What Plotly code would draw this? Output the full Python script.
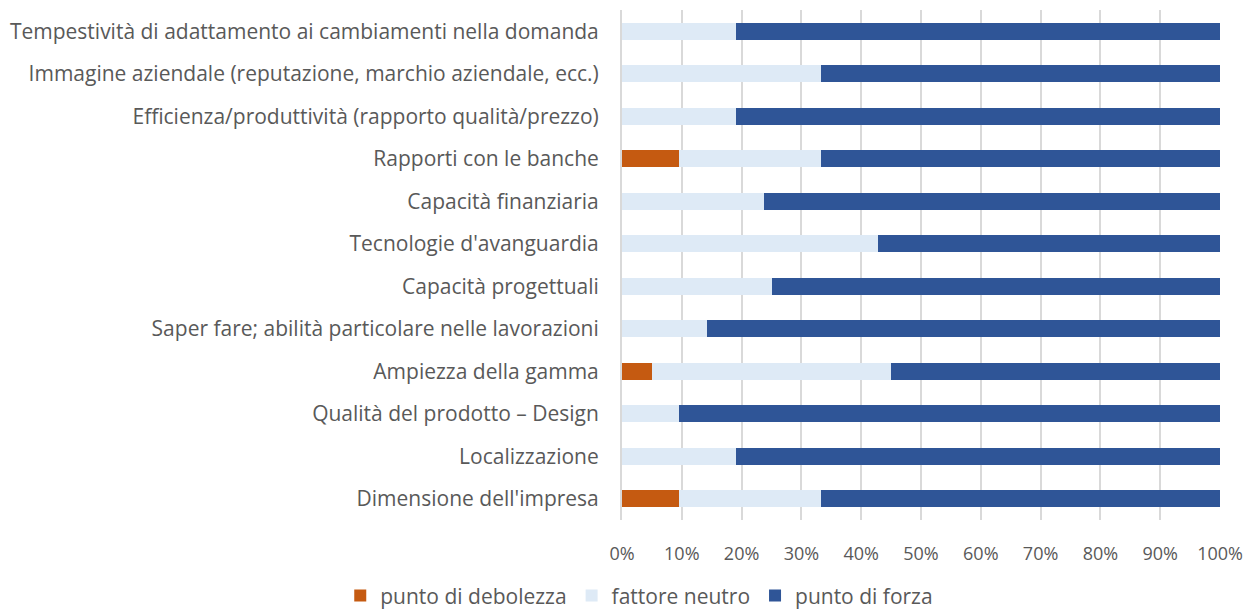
import plotly.graph_objects as go

categories = [
    "Tempestività di adattamento ai cambiamenti nella domanda",
    "Immagine aziendale (reputazione, marchio aziendale, ecc.)",
    "Efficienza/produttività (rapporto qualità/prezzo)",
    "Rapporti con le banche",
    "Capacità finanziaria",
    "Tecnologie d'avanguardia",
    "Capacità progettuali",
    "Saper fare; abilità particolare nelle lavorazioni",
    "Ampiezza della gamma",
    "Qualità del prodotto – Design",
    "Localizzazione",
    "Dimensione dell'impresa",
]
debolezza = [0, 0, 0, 9.52, 0, 0, 0, 0, 5.0, 0, 0, 9.52]
neutro = [19.05, 33.33, 19.05, 23.81, 23.81, 42.86, 25.0, 14.29, 40.0, 9.52, 19.05, 23.81]
forza = [80.95, 66.67, 80.95, 66.67, 76.19, 57.14, 75.0, 85.71, 55.0, 90.48, 80.95, 66.67]
tick_vals = [0, 10, 20, 30, 40, 50, 60, 70, 80, 90, 100]
tick_text = ["0%", "10%", "20%", "30%", "40%", "50%", "60%", "70%", "80%", "90%", "100%"]

series = [
    ("punto di debolezza", debolezza, "#C55A11"),
    ("fattore neutro", neutro, "#DEEAF6"),
    ("punto di forza", forza, "#2F5597"),
]

fig = go.Figure()
for name, vals, color in series:
    fig.add_trace(go.Bar(
        y=categories, x=vals, name=name, orientation="h",
        marker=dict(color=color, line=dict(width=0)),
        hoverinfo="name+x",
    ))

font_family = "Open Sans, Liberation Sans, sans-serif"
fig.update_layout(
    barmode="stack",
    bargap=0.6,
    width=1250, height=606,
    margin=dict(l=612, r=38, t=2, b=94),
    paper_bgcolor="white", plot_bgcolor="white",
    font=dict(family=font_family, size=21, color="#595959"),
    xaxis=dict(
        range=[0, 100], tickvals=tick_vals, ticktext=tick_text,
        showgrid=True, gridcolor="#D9D9D9", gridwidth=2,
        zeroline=False, showline=False, ticks="",
        tickfont=dict(size=18, color="#595959"),
        ticklabelstandoff=21,
    ),
    yaxis=dict(
        autorange="reversed", showgrid=False, zeroline=False,
        showline=True, linecolor="#D9D9D9", linewidth=2,
        ticks="", ticklabelstandoff=17,
        tickfont=dict(size=21, color="#595959"),
    ),
    legend=dict(
        orientation="h", xref="container", x=0.505, xanchor="center",
        yref="container", y=0.03, yanchor="middle",
        font=dict(size=21, color="#595959"),
        traceorder="normal", itemwidth=30,
    ),
)

fig.write_html("out.html")
